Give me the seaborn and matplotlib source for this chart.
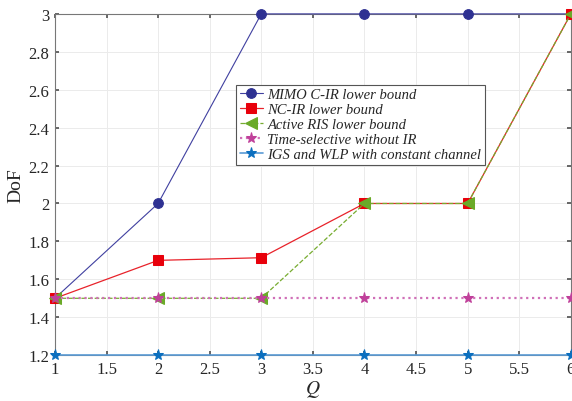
import matplotlib
matplotlib.use("Agg")
import matplotlib.pyplot as plt
import seaborn as sns
import pandas as pd

# Degrees of freedom versus Q for each scheme
Q = [1, 2, 3, 4, 5, 6]
mimo_cir = [1.5, 2.0, 3.0, 3.0, 3.0, 3.0]
nc_ir = [1.5, 1.7, 1.714, 2.0, 2.0, 3.0]
active_ris = [1.5, 1.5, 1.5, 2.0, 2.0, 3.0]
time_selective = [1.5, 1.5, 1.5, 1.5, 1.5, 1.5]
igs_wlp = [1.2, 1.2, 1.2, 1.2, 1.2, 1.2]

labels = [
    "MIMO C-IR lower bound",
    "NC-IR lower bound",
    "Active RIS lower bound",
    "Time-selective without IR",
    "IGS and WLP with constant channel",
]
x_ticks = [1, 1.5, 2, 2.5, 3, 3.5, 4, 4.5, 5, 5.5, 6]
y_ticks = [1.2, 1.4, 1.6, 1.8, 2.0, 2.2, 2.4, 2.6, 2.8, 3.0]

sns.set_theme(style="whitegrid")
plt.rcParams["font.family"] = ["Liberation Serif", "DejaVu Serif"]
plt.rcParams["mathtext.fontset"] = "stix"

fig = plt.figure(figsize=(5.72, 4.02), dpi=100)
ax = fig.add_axes([0.096, 0.114, 0.902, 0.849])

styles = [
    dict(data=mimo_cir, color="#4040a0", mfc="#2e3192", mec="#2e3192", marker="o", ms=7, ls="-", lw=0.8),
    dict(data=nc_ir, color="#e8222a", mfc="#e8000b", mec="#e8000b", marker="s", ms=6.5, ls="-", lw=0.9),
    dict(data=active_ris, color="#77ac30", mfc="#6aaa28", mec="#6aaa28", marker="<", ms=8.5, ls="--", lw=0.9),
    dict(data=time_selective, color="#d070b8", mfc="#c0409a", mec="#c0409a", marker="*", ms=8, ls=":", lw=1.6),
    dict(data=igs_wlp, color="#5a9bd5", mfc="#0b6fbf", mec="#0b6fbf", marker="*", ms=8, ls="-", lw=1.2),
]

for lab, st in zip(labels, styles):
    df = pd.DataFrame({"Q": Q, "DoF": st["data"]})
    sns.lineplot(
        data=df, x="Q", y="DoF", ax=ax, label=lab,
        color=st["color"], marker=st["marker"], markersize=st["ms"],
        markerfacecolor=st["mfc"], markeredgecolor=st["mec"],
        linestyle=st["ls"], linewidth=st["lw"], clip_on=False, zorder=3,
    )

ax.set_xlim(1, 6)
ax.set_ylim(1.2, 3)
ax.set_xticks(x_ticks)
ax.set_xticklabels([f"{t:g}" for t in x_ticks])
ax.set_yticks(y_ticks)
ax.set_yticklabels([f"{t:g}" for t in y_ticks])
ax.tick_params(axis="both", labelsize=12, direction="in", length=3,
               color="#555555", pad=4, bottom=True, left=True, top=True, right=True)
ax.grid(True, color="#ebebeb", linewidth=0.7)
for s in ax.spines.values():
    s.set_color("#777777")
    s.set_linewidth(0.8)
ax.set_facecolor("white")

ax.set_xlabel("$Q$", fontsize=14, labelpad=1)
ax.set_ylabel("DoF", fontsize=14, labelpad=3)

leg = ax.legend(
    loc="upper left", bbox_to_anchor=(0.351, 0.793),
    prop={"family": "Liberation Serif", "style": "italic", "size": 10.5},
    frameon=True, fancybox=False, edgecolor="#555555", framealpha=1,
    borderpad=0.25, labelspacing=0.12, handlelength=1.6, handletextpad=0.3,
    borderaxespad=0,
)
leg.get_frame().set_linewidth(0.8)

fig.savefig("out.png", dpi=100)
